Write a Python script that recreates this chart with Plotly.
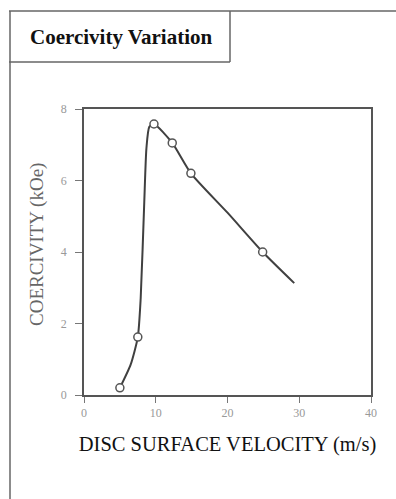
import plotly.graph_objects as go

# Measured data points (open circles)
pt_velocity = [5.0, 7.5, 9.75, 12.3, 14.9, 24.9]
pt_coercivity = [0.2, 1.62, 7.58, 7.05, 6.2, 4.0]

# Points
curve_velocity = [5.0, 6.5, 7.5, 7.9, 8.4, 8.7, 9.1, 9.75, 12.3, 14.9, 20.0, 24.9, 29.3]
curve_coercivity = [0.2, 0.85, 1.62, 2.7, 5.4, 6.9, 7.5, 7.58, 7.05, 6.2, 5.1, 4.0, 3.13]

x_ticks = [0, 10, 20, 30, 40]
y_ticks = [0, 2, 4, 6, 8]

W, H = 396, 499
L, R, T, B = 84, 371, 109, 395

def px(xp):
    return (xp - L) / (R - L)

def py(yp):
    return (B - yp) / (B - T)

SERIF = "Liberation Serif"

fig = go.Figure()
fig.add_trace(go.Scatter(
    x=curve_velocity, y=curve_coercivity, mode="lines",
    line=dict(color="#404040", width=2, shape="spline", smoothing=0.6),
    hoverinfo="skip", showlegend=False))
fig.add_trace(go.Scatter(
    x=pt_velocity, y=pt_coercivity, mode="markers",
    marker=dict(symbol="circle", size=8, color="white",
                line=dict(color="#555555", width=1.5)),
    showlegend=False))

frame_col = "#666666"
shapes = [
    dict(type="line", xref="paper", yref="paper", x0=px(9), x1=px(W + 5), y0=py(11), y1=py(11),
         line=dict(color=frame_col, width=1.5)),
    dict(type="line", xref="paper", yref="paper", x0=px(10), x1=px(10), y0=py(11), y1=py(H + 5),
         line=dict(color=frame_col, width=1.5)),
    dict(type="line", xref="paper", yref="paper", x0=px(9), x1=px(230), y0=py(62), y1=py(62),
         line=dict(color=frame_col, width=1.5)),
    dict(type="line", xref="paper", yref="paper", x0=px(230), x1=px(230), y0=py(11), y1=py(62),
         line=dict(color=frame_col, width=1.5)),
]

fig.update_layout(
    width=W, height=H,
    margin=dict(l=L, r=W - R, t=T, b=H - B),
    plot_bgcolor="white", paper_bgcolor="white",
    shapes=shapes,
    annotations=[
        dict(text="<b>Coercivity Variation</b>", xref="paper", yref="paper",
             x=px(28), y=py(37), xanchor="left", yanchor="middle", showarrow=False,
             font=dict(family=SERIF, size=21, color="#111111")),
        dict(text="COERCIVITY (kOe)", xref="paper", yref="paper", textangle=-90,
             x=px(37), y=py(245), xanchor="center", yanchor="middle", showarrow=False,
             font=dict(family=SERIF, size=19, color="#666666")),
    ],
    xaxis=dict(
        range=[0, 40], tickvals=x_ticks, ticktext=[str(v) for v in x_ticks],
        showgrid=False, zeroline=False, showline=True, mirror=True,
        linecolor="#555555", linewidth=1.5,
        ticks="outside", ticklen=6, tickcolor="#777777", tickwidth=1,
        tickfont=dict(family=SERIF, size=12, color="#999999"),
        title=dict(text="DISC SURFACE VELOCITY (m/s)", standoff=17,
                   font=dict(family=SERIF, size=20.5, color="#111111")),
    ),
    yaxis=dict(
        range=[0, 8], tickvals=y_ticks, ticktext=[str(v) for v in y_ticks],
        showgrid=False, zeroline=False, showline=True, mirror=True,
        linecolor="#555555", linewidth=1.5,
        ticks="outside", ticklen=7, tickcolor="#777777", tickwidth=1,
        ticklabelstandoff=6,
        tickfont=dict(family=SERIF, size=12, color="#999999"),
    ),
)

fig.write_html("out.html", config={"displayModeBar": False},
               post_script="document.body.style.margin='0';")
